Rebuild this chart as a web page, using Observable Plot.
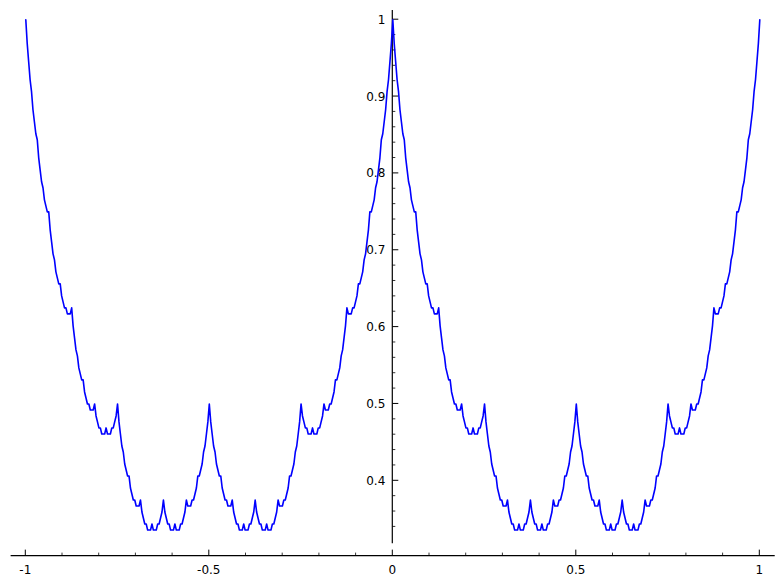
<!DOCTYPE html>
<html>
<head>
<meta charset="utf-8">
<script src="https://cdn.jsdelivr.net/npm/d3@7"></script>
<script src="https://cdn.jsdelivr.net/npm/@observablehq/plot@0.6"></script>
<style>
  html, body { margin: 0; padding: 0; background: #fff; }
  #chart { width: 784px; height: 585px; }
</style>
</head>
<body>
<div id="chart"></div>
<script>
const xStep = 1 / 256;
const yPeriod = [
  1, .9688, .9453, .9219, .9063, .8828, .8672, .8516, .8438, .8203, .8047, .7891, .7813, .7656, .7578, .75,
  .75, .7266, .7109, .6953, .6875, .6719, .6641, .6563, .6563, .6406, .6328, .625, .625, .6172, .6172, .6172,
  .625, .6016, .5859, .5703, .5625, .5469, .5391, .5313, .5313, .5156, .5078, .5, .5, .4922, .4922, .4922,
  .5, .4844, .4766, .4688, .4688, .4609, .4609, .4609, .4688, .4609, .4609, .4609, .4688, .4688, .4766, .4844,
  .5, .4766, .4609, .4453, .4375, .4219, .4141, .4063, .4063, .3906, .3828, .375, .375, .3672, .3672, .3672,
  .375, .3594, .3516, .3438, .3438, .3359, .3359, .3359, .3438, .3359, .3359, .3359, .3438, .3438, .3516, .3594,
  .375, .3594, .3516, .3438, .3438, .3359, .3359, .3359, .3438, .3359, .3359, .3359, .3438, .3438, .3516, .3594,
  .375, .3672, .3672, .3672, .375, .375, .3828, .3906, .4063, .4063, .4141, .4219, .4375, .4453, .4609, .4766,
  .5,
  .4766, .4609, .4453, .4375, .4219, .4141, .4063, .4063, .3906, .3828, .375, .375, .3672, .3672, .3672, .375,
  .3594, .3516, .3438, .3438, .3359, .3359, .3359, .3438, .3359, .3359, .3359, .3438, .3438, .3516, .3594, .375,
  .3594, .3516, .3438, .3438, .3359, .3359, .3359, .3438, .3359, .3359, .3359, .3438, .3438, .3516, .3594, .375,
  .3672, .3672, .3672, .375, .375, .3828, .3906, .4063, .4063, .4141, .4219, .4375, .4453, .4609, .4766, .5,
  .4844, .4766, .4688, .4688, .4609, .4609, .4609, .4688, .4609, .4609, .4609, .4688, .4688, .4766, .4844, .5,
  .4922, .4922, .4922, .5, .5, .5078, .5156, .5313, .5313, .5391, .5469, .5625, .5703, .5859, .6016, .625,
  .6172, .6172, .6172, .625, .625, .6328, .6406, .6563, .6563, .6641, .6719, .6875, .6953, .7109, .7266, .75,
  .75, .7578, .7656, .7813, .7891, .8047, .8203, .8438, .8516, .8672, .8828, .9063, .9219, .9453, .9688, 1
];
// The curve repeats on [-1, 0] and [0, 1]
const intervalStarts = [-1, 0];

// Axis ticks
const xMajorTicks = [-1, -0.5, 0, 0.5, 1];
const xTickLabels = ["-1", "-0.5", "0", "0.5", "1"];
const xMinorTicks = [-0.9, -0.8, -0.7, -0.6, -0.4, -0.3, -0.2, -0.1, 0.1, 0.2, 0.3, 0.4, 0.6, 0.7, 0.8, 0.9];
const yMajorTicks = [0.4, 0.5, 0.6, 0.7, 0.8, 0.9, 1];
const yTickLabels = ["0.4", "0.5", "0.6", "0.7", "0.8", "0.9", "1"];
const yMinorTicks = [0.34, 0.36, 0.38, 0.42, 0.44, 0.46, 0.48, 0.52, 0.54, 0.56, 0.58, 0.62, 0.64, 0.66, 0.68,
                     0.72, 0.74, 0.76, 0.78, 0.82, 0.84, 0.86, 0.88, 0.92, 0.94, 0.96, 0.98];

// Axis layout (in data units)
const axisConf = { xAxisAtY: 0.302, xAxisFrom: -1.04, xAxisTo: 1.042, yAxisAtX: 0, yAxisFrom: 0.318, yAxisTo: 1.012 };

const points = [];
for (const start of intervalStarts) {
  yPeriod.forEach((y, i) => {
    if (start < 0 && i === yPeriod.length - 1) return; // avoid duplicate at x=0
    points.push({ x: start + i * xStep, y });
  });
}

const NS = "http://www.w3.org/2000/svg";
function el(name, attrs) {
  const e = document.createElementNS(NS, name);
  for (const k in attrs) e.setAttribute(k, attrs[k]);
  return e;
}

function axes(index, scales) {
  const { x, y } = scales;
  const g = el("g", { stroke: "#000", fill: "none" });
  const ax = x(axisConf.yAxisAtX);
  const ay = y(axisConf.xAxisAtY);
  g.appendChild(el("line", { x1: x(axisConf.xAxisFrom), x2: x(axisConf.xAxisTo), y1: ay, y2: ay, "stroke-width": 1.2 }));
  g.appendChild(el("line", { x1: ax, x2: ax, y1: y(axisConf.yAxisFrom), y2: y(axisConf.yAxisTo), "stroke-width": 1.2 }));
  for (const t of xMajorTicks) g.appendChild(el("line", { x1: x(t), x2: x(t), y1: ay, y2: ay - 6, "stroke-width": 1 }));
  for (const t of xMinorTicks) g.appendChild(el("line", { x1: x(t), x2: x(t), y1: ay, y2: ay - 3, "stroke-width": 0.8 }));
  for (const t of yMajorTicks) g.appendChild(el("line", { x1: ax, x2: ax + 6, y1: y(t), y2: y(t), "stroke-width": 1 }));
  for (const t of yMinorTicks) g.appendChild(el("line", { x1: ax, x2: ax + 3, y1: y(t), y2: y(t), "stroke-width": 0.8 }));
  const tg = el("g", { fill: "#000", stroke: "none", "font-family": "DejaVu Sans", "font-size": 12 });
  xMajorTicks.forEach((t, i) => {
    const tx = el("text", { x: x(t), y: ay + 18, "text-anchor": "middle" });
    tx.textContent = xTickLabels[i];
    tg.appendChild(tx);
  });
  yMajorTicks.forEach((t, i) => {
    const tx = el("text", { x: ax - 7, y: y(t) + 4.5, "text-anchor": "end" });
    tx.textContent = yTickLabels[i];
    tg.appendChild(tx);
  });
  g.appendChild(tg);
  return g;
}

const chart = Plot.plot({
  width: 784,
  height: 585,
  margin: 0,
  style: { background: "#fff", fontFamily: "DejaVu Sans" },
  x: { domain: [-1, 1], range: [25.3, 759.3], axis: null },
  y: { domain: [0.4, 1], range: [480.3, 19.2], axis: null },
  marks: [
    axes,
    Plot.line(points, { x: "x", y: "y", stroke: "#0000ff", strokeWidth: 1.6 })
  ]
});
document.getElementById("chart").appendChild(chart);
</script>
</body>
</html>
